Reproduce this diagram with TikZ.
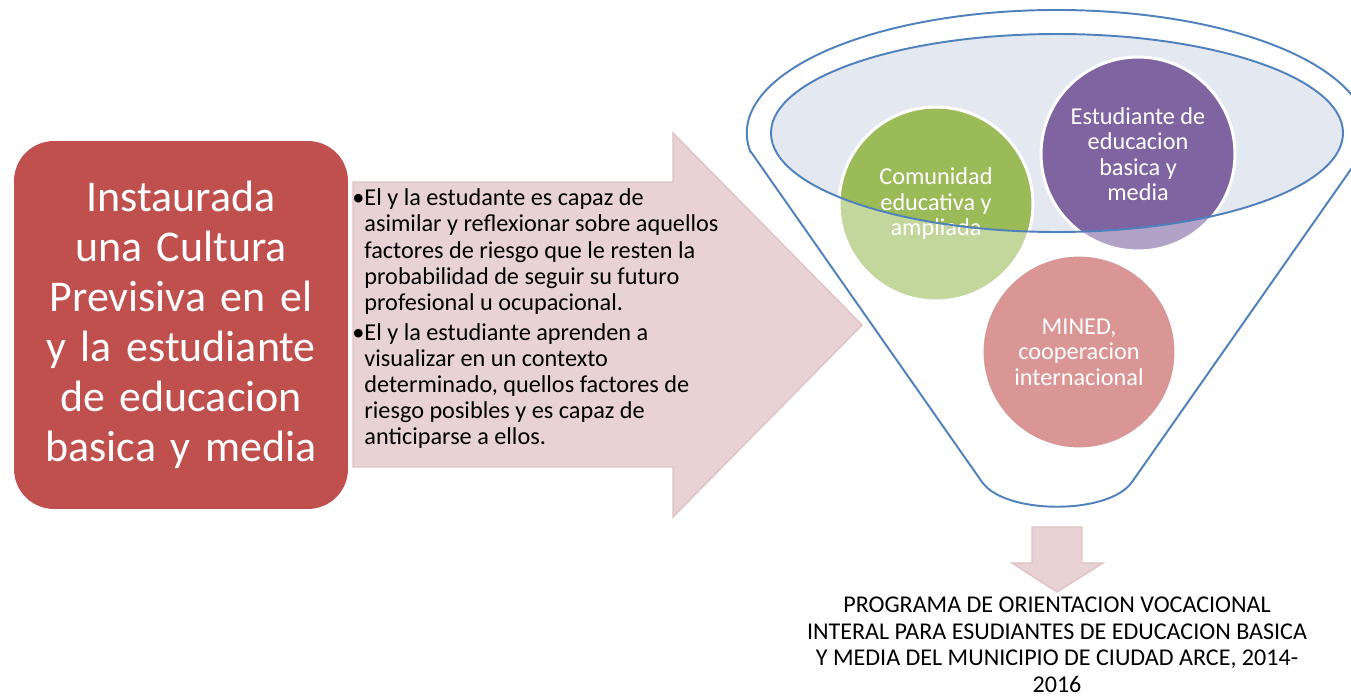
\documentclass[tikz,border=0pt]{standalone}
\usepackage{fontspec}
\setmainfont{Carlito}

\definecolor{boxred}{HTML}{C0504D}
\definecolor{arrowpink}{HTML}{E8D2D3}
\definecolor{arrowedge}{HTML}{E0C2C4}
\definecolor{funnelblue}{HTML}{4F81BD}
\definecolor{rimfill}{HTML}{E3E8F1}
\definecolor{circgreen}{HTML}{9BBB59}
\definecolor{circpurple}{HTML}{8064A2}

\tikzset{
    bubble/.style={circle, draw=white, line width=1.7pt, minimum size=3.88cm, inner sep=0pt,
        text=white, align=center, font=\fontsize{13.8}{14.5}\selectfont},
    blockarrow/.style={fill=arrowpink, draw=arrowedge, line width=0.8pt},
    funnelline/.style={draw=funnelblue, line width=1.1pt}
}

\begin{document}
\begin{tikzpicture}[x=0.02cm, y=-0.02cm]
    \useasboundingbox (0,0) rectangle (1351,696);

    % Goal box
    \node[fill=boxred, rounded corners=0.8cm, minimum width=6.68cm, minimum height=7.36cm,
        text width=6.4cm, align=center, text=white, font=\fontsize{25}{28.45}\selectfont]
        (meta) at (181,325) {Instaurada\\ una Cultura\\ Previsiva en el\\ y la estudiante\\ de educacion\\ basica y media};

    % Big arrow with the results
    \draw[blockarrow] (353,182) -- (673,182) -- (673,133) -- (862,325) -- (673,517) -- (673,467) -- (353,467) -- cycle;
    \node[anchor=north west, inner sep=0pt, font=\fontsize{13.8}{14.9}\selectfont] (logros) at (352,187) {%
        \begin{tabular}{@{}l@{}l@{}}
        \textbullet & El y la estudante es capaz de\\
         & asimilar y reflexionar sobre aquellos\\
         & factores de riesgo que le resten la\\
         & probabilidad de seguir su futuro\\
         & profesional u ocupacional.\\[2.1pt]
        \textbullet & El y la estudiante aprenden a\\
         & visualizar en un contexto\\
         & determinado, quellos factores de\\
         & riesgo posibles y es capaz de\\
         & anticiparse a ellos.
        \end{tabular}};

    % Funnel rim
    \fill[rimfill] (1057,133) ellipse [x radius=286, y radius=99];

    % Actors
    \foreach \name/\x/\y/\col/\txt in {
        comunidad/936/204/circgreen/{Comunidad\\ educativa y\\ ampliada},
        estudiante/1138/154/circpurple/{Estudiante de\\ educacion\\ basica y\\ media},
        mined/1079/352/boxred/{MINED,\\ cooperacion\\ internacional}} {
        \node[bubble, fill=\col] (\name) at (\x,\y) {\txt};
    }

    % Funnel body
    \fill[white, opacity=0.4, even odd rule] (751,152) -- (982,482) .. controls (1005,515) and (1109,515) .. (1132,482)
        -- (1363,152) arc[start angle=8.9, end angle=-188.9, x radius=310, y radius=123] -- cycle
        (1057,133) ellipse [x radius=286, y radius=99];
    \draw[funnelline] (751,152) -- (982,482) .. controls (1005,515) and (1109,515) .. (1132,482)
        -- (1363,152) arc[start angle=8.9, end angle=-188.9, x radius=310, y radius=123] -- cycle;
    \draw[funnelline] (1057,133) ellipse [x radius=286, y radius=99];

    % Output
    \draw[blockarrow] (1032,527) -- (1082,527) -- (1082,563) -- (1103,563) -- (1057,592) -- (1012,563) -- (1032,563) -- cycle;
    \node[align=center, font=\fontsize{13.7}{15.1}\selectfont] (programa) at (1057,645)
        {PROGRAMA DE ORIENTACION VOCACIONAL\\ INTERAL PARA ESUDIANTES DE EDUCACION BASICA\\ Y MEDIA DEL MUNICIPIO DE CIUDAD ARCE, 2014-\\ 2016};
\end{tikzpicture}
\end{document}
